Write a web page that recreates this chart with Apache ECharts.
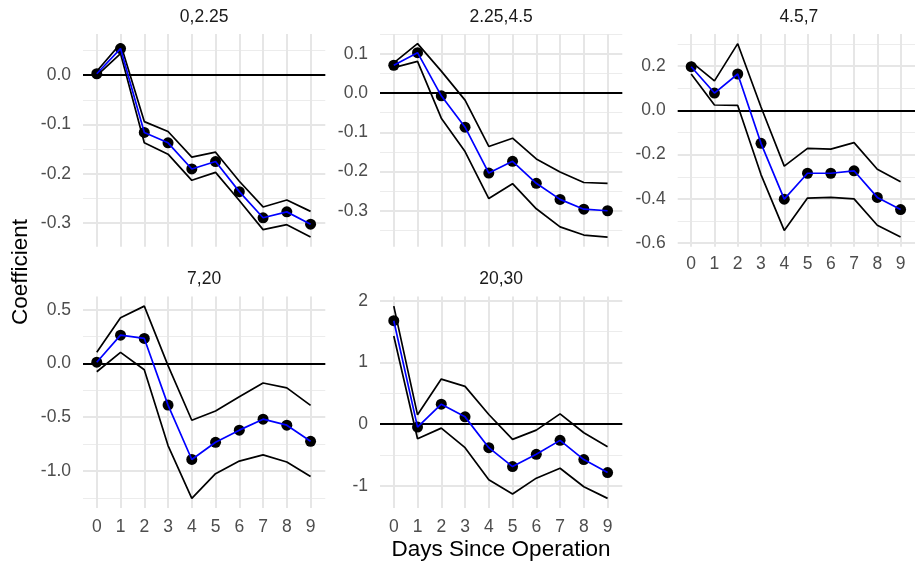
<!DOCTYPE html>
<html><head><meta charset="utf-8">
<script src="https://cdn.jsdelivr.net/npm/echarts@6/dist/echarts.min.js"></script>
<style>html,body{margin:0;padding:0;background:#fff}#c{width:915px;height:571px}</style>
</head><body><div id="c"></div>
<script>
// ---- data ----
const days = [0, 1, 2, 3, 4, 5, 6, 7, 8, 9];
const xTickLabels = ["0", "1", "2", "3", "4", "5", "6", "7", "8", "9"];
const panelTitles = ["0,2.25", "2.25,4.5", "4.5,7", "7,20", "20,30"];

const est_0_225 = [0.003, 0.054, -0.116, -0.137, -0.190, -0.175, -0.236, -0.289, -0.277, -0.302];
const upper_0_225 = [0.008, 0.064, -0.094, -0.114, -0.166, -0.156, -0.215, -0.267, -0.253, -0.276];
const lower_0_225 = [-0.001, 0.044, -0.137, -0.160, -0.213, -0.197, -0.254, -0.313, -0.303, -0.328];

const est_225_45 = [0.071, 0.103, -0.007, -0.087, -0.204, -0.174, -0.230, -0.271, -0.296, -0.300];
const upper_225_45 = [0.077, 0.126, 0.056, -0.018, -0.136, -0.115, -0.168, -0.201, -0.228, -0.230];
const lower_225_45 = [0.065, 0.081, -0.064, -0.149, -0.269, -0.231, -0.295, -0.341, -0.362, -0.367];

const est_45_7 = [0.197, 0.078, 0.164, -0.149, -0.401, -0.284, -0.284, -0.273, -0.393, -0.448];
const upper_45_7 = [0.219, 0.133, 0.301, 0.015, -0.252, -0.172, -0.175, -0.146, -0.266, -0.322];
const lower_45_7 = [0.164, 0.024, 0.022, -0.290, -0.542, -0.396, -0.393, -0.400, -0.519, -0.572];

const est_7_20 = [0.012, 0.264, 0.233, -0.387, -0.893, -0.733, -0.620, -0.518, -0.574, -0.724];
const upper_7_20 = [0.104, 0.426, 0.534, -0.020, -0.528, -0.442, -0.310, -0.181, -0.227, -0.390];
const lower_7_20 = [-0.077, 0.104, -0.058, -0.764, -1.255, -1.025, -0.908, -0.850, -0.917, -1.052];

const est_20_30 = [1.677, -0.048, 0.323, 0.118, -0.382, -0.688, -0.489, -0.263, -0.575, -0.785];
const upper_20_30 = [1.914, 0.151, 0.731, 0.613, 0.156, -0.247, -0.097, 0.167, -0.140, -0.366];
const lower_20_30 = [1.430, -0.237, -0.065, -0.382, -0.903, -1.134, -0.876, -0.715, -1.016, -1.204];

const yTicks_0_225 = ["-0.3", "-0.2", "-0.1", "0.0"];
const yTicks_225_45 = ["-0.3", "-0.2", "-0.1", "0.0", "0.1"];
const yTicks_45_7 = ["-0.6", "-0.4", "-0.2", "0.0", "0.2"];
const yTicks_7_20 = ["-1.0", "-0.5", "0.0", "0.5"];
const yTicks_20_30 = ["-1", "0", "1", "2"];

const xTitle = "Days Since Operation";
const yTitle = "Coefficient";

// ---- layout ----
const colLeft = [83, 380, 677.7];
const colWidth = 242.3;
const rowTop = [34, 296.5];
const rowHeight = [212.7, 211.5];
const FONT = '"Liberation Sans", Arial, sans-serif';
const TICK_SIZE = 17.5;
const TITLE_SIZE = 22.5;

const panelDefs = [
  { title: panelTitles[0], est: est_0_225, up: upper_0_225, lo: lower_0_225, ticks: yTicks_0_225, col: 0, row: 0, showX: false },
  { title: panelTitles[1], est: est_225_45, up: upper_225_45, lo: lower_225_45, ticks: yTicks_225_45, col: 1, row: 0, showX: false },
  { title: panelTitles[2], est: est_45_7, up: upper_45_7, lo: lower_45_7, ticks: yTicks_45_7, col: 2, row: 0, showX: true },
  { title: panelTitles[3], est: est_7_20, up: upper_7_20, lo: lower_7_20, ticks: yTicks_7_20, col: 0, row: 1, showX: true },
  { title: panelTitles[4], est: est_20_30, up: upper_20_30, lo: lower_20_30, ticks: yTicks_20_30, col: 1, row: 1, showX: true }
];

const grids = [], xAxes = [], yAxes = [], series = [], graphics = [];

panelDefs.forEach((p, i) => {
  const all = p.est.concat(p.up, p.lo, [0]);
  const dmin = Math.min.apply(null, all), dmax = Math.max.apply(null, all);
  const pad = (dmax - dmin) * 0.05;
  const ymin = dmin - pad, ymax = dmax + pad;
  const tickVals = p.ticks.map(Number);
  const step = tickVals[1] - tickVals[0];
  const minor = [];
  for (let k = -1; k < tickVals.length; k++) {
    const v = (k < 0 ? tickVals[0] - step : tickVals[k]) + step / 2;
    if (v > ymin && v < ymax) minor.push(v);
  }
  const left = colLeft[p.col], top = rowTop[p.row], h = rowHeight[p.row];
  grids.push({ left: left, top: top, width: colWidth, height: h, containLabel: false });
  xAxes.push({
    gridIndex: i, type: 'value', min: -0.58, max: 9.62,
    axisLine: { show: false }, axisTick: { show: false }, splitLine: { show: false },
    axisLabel: {
      show: p.showX, customValues: days, margin: p.row === 0 ? 8 : 10,
      formatter: v => xTickLabels[days.indexOf(v)],
      color: '#4d4d4d', fontSize: TICK_SIZE, fontFamily: FONT
    }
  });
  yAxes.push({
    gridIndex: i, type: 'value', min: ymin, max: ymax,
    axisLine: { show: false }, axisTick: { show: false }, splitLine: { show: false },
    axisLabel: {
      customValues: tickVals, margin: 12,
      formatter: v => { const j = tickVals.findIndex(t => Math.abs(t - v) < 1e-9); return j >= 0 ? p.ticks[j] : ''; },
      color: '#4d4d4d', fontSize: TICK_SIZE, fontFamily: FONT
    }
  });
  const gridLines = []
    .concat(minor.map(v => ({ yAxis: v, lineStyle: { color: '#ececec', width: 1, type: 'solid' } })))
    .concat(tickVals.map(v => ({ yAxis: v, lineStyle: { color: '#e6e6e6', width: 2, type: 'solid' } })))
    .concat(days.map(d => ({ xAxis: d, lineStyle: { color: '#e6e6e6', width: 2, type: 'solid' } })));
  series.push({
    type: 'line', xAxisIndex: i, yAxisIndex: i, data: [], silent: true, z: 1,
    markLine: { z: 1, silent: true, symbol: ['none', 'none'], label: { show: false }, animation: false, data: gridLines }
  });
  series.push({
    type: 'line', xAxisIndex: i, yAxisIndex: i, data: [], silent: true, z: 2,
    markLine: { z: 2, silent: true, symbol: ['none', 'none'], label: { show: false }, animation: false,
      data: [{ yAxis: 0, lineStyle: { color: '#000', width: 1.8, type: 'solid' } }] }
  });
  [p.up, p.lo].forEach(arr => {
    series.push({
      type: 'line', xAxisIndex: i, yAxisIndex: i, z: 3, symbol: 'none', silent: true,
      data: days.map((d, j) => [d, arr[j]]),
      lineStyle: { color: '#000', width: 1.7 }
    });
  });
  series.push({
    type: 'scatter', xAxisIndex: i, yAxisIndex: i, z: 4, symbolSize: 11, silent: true,
    data: days.map((d, j) => [d, p.est[j]]),
    itemStyle: { color: '#000', opacity: 1 }
  });
  series.push({
    type: 'line', xAxisIndex: i, yAxisIndex: i, z: 5, symbol: 'none', silent: true,
    data: days.map((d, j) => [d, p.est[j]]),
    lineStyle: { color: '#0000ff', width: 1.7 }
  });
  graphics.push({
    type: 'text', x: left + colWidth / 2, y: top - 17,
    style: { text: p.title, fill: '#1a1a1a', font: TICK_SIZE + 'px ' + FONT, align: 'center', verticalAlign: 'middle', textAlign: 'center', textVerticalAlign: 'middle' }
  });
});

graphics.push({
  type: 'text', x: 501, y: 550,
  style: { text: xTitle, fill: '#000', font: TITLE_SIZE + 'px ' + FONT, align: 'center', verticalAlign: 'middle', textAlign: 'center', textVerticalAlign: 'middle' }
});
graphics.push({
  type: 'text', x: 21, y: 272, rotation: Math.PI / 2,
  style: { text: yTitle, fill: '#000', font: TITLE_SIZE + 'px ' + FONT, align: 'center', verticalAlign: 'middle', textAlign: 'center', textVerticalAlign: 'middle' }
});

const chart = echarts.init(document.getElementById('c'), null, { renderer: 'canvas' });
chart.setOption({
  animation: false,
  backgroundColor: '#fff',
  grid: grids, xAxis: xAxes, yAxis: yAxes, series: series, graphic: graphics
});
</script>
</body></html>
